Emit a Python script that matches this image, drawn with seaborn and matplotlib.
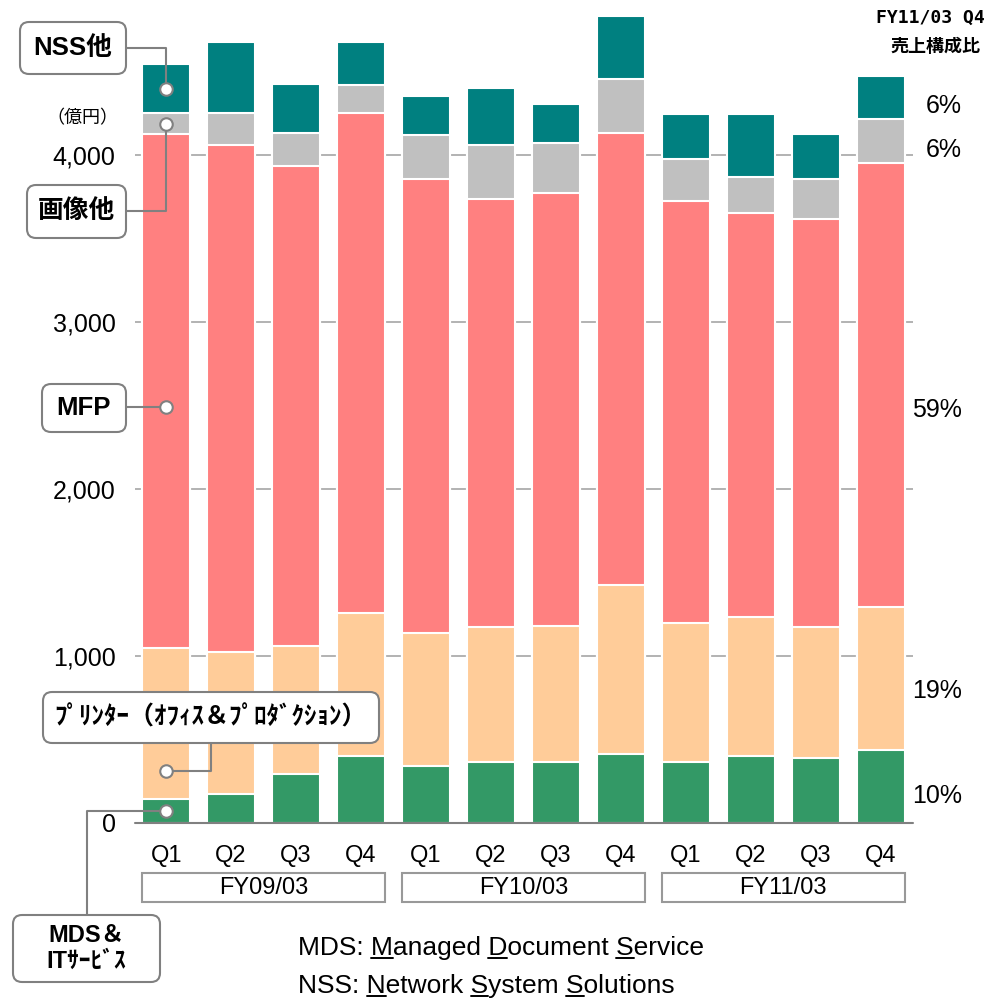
import matplotlib
matplotlib.use("Agg")
import numpy as np
import pandas as pd
import matplotlib.pyplot as plt
import seaborn as sns
from matplotlib import transforms
from matplotlib.patches import FancyBboxPatch, Rectangle
from matplotlib.lines import Line2D

# 四半期別 売上高（億円）
quarters = ["Q1", "Q2", "Q3", "Q4"] * 3
fiscal_years = ["FY09/03", "FY10/03", "FY11/03"]
mds_it = [144, 174, 293, 401, 341, 365, 365, 413, 365, 401, 389, 437]
printer = [904, 850, 767, 856, 797, 809, 815, 1012, 833, 833, 785, 856]
mfp = [3078, 3036, 2874, 2994, 2718, 2563, 2592, 2707, 2527, 2419, 2443, 2659]
imaging_other = [125, 191, 198, 168, 264, 323, 300, 323, 251, 215, 239, 264]
nss_other = [294, 426, 293, 258, 233, 341, 233, 377, 270, 378, 270, 257]

segment_names = ["MDS＆\nITｻｰﾋﾞｽ", "ﾌﾟﾘﾝﾀｰ（ｵﾌｨｽ＆ﾌﾟﾛﾀﾞｸｼｮﾝ）", "MFP", "画像他", "NSS他"]
colors = ["#339966", "#FFCC99", "#FF8080", "#C0C0C0", "#008080"]

periods = [f"{fy} {q}" for fy in fiscal_years for q in ["Q1", "Q2", "Q3", "Q4"]]
df = pd.DataFrame({"period": periods, "MDS": mds_it, "Printer": printer,
                   "MFP": mfp, "Imaging": imaging_other, "NSS": nss_other})
cols = ["MDS", "Printer", "MFP", "Imaging", "NSS"]
cum = df[cols].cumsum(axis=1)

sns.set_style("white")
plt.rcParams["font.family"] = ["Liberation Sans", "Noto Sans CJK JP"]
plt.rcParams["text.color"] = "black"
plt.rcParams["xtick.color"] = "black"
plt.rcParams["ytick.color"] = "black"

W, H = 992, 998
fig = plt.figure(figsize=(W / 100, H / 100), dpi=100)
ax = fig.add_axes([135 / W, 1 - 823 / H, 778 / W, 818 / H])
px = transforms.Affine2D().scale(1 / W, -1 / H).translate(0, 1) + fig.transFigure

# 積み上げ棒（上の層から順に描く）
for i in reversed(range(len(cols))):
    sns.barplot(x=df["period"], y=cum[cols[i]], order=periods, color=colors[i],
                saturation=1, width=0.74, edgecolor="white", linewidth=1.5,
                errorbar=None, ax=ax, zorder=2)

ax.set_xlim(-0.48, 11.5)
ax.set_ylim(0, 4900)
ax.set_xlabel("")
ax.set_ylabel("")
for s in ax.spines.values():
    s.set_visible(False)
ax.set_yticks([0, 1000, 2000, 3000, 4000])
ax.set_yticklabels([f"{v:,}" for v in [0, 1000, 2000, 3000, 4000]])
ax.grid(axis="y", color="#A6A6A6", linewidth=1.2)
ax.set_axisbelow(True)
ax.axhline(0, color="#808080", linewidth=1.5, zorder=3, clip_on=False)
ax.tick_params(axis="y", length=0, pad=14, labelsize=18)
ax.set_xticks(range(12))
ax.set_xticklabels(quarters)
ax.tick_params(axis="x", length=0, pad=16, labelsize=17)

# 年度ボックス
trans = transforms.blended_transform_factory(ax.transData, fig.transFigure)
for g, fy in enumerate(fiscal_years):
    x0 = g * 4 - 0.37
    x1 = g * 4 + 3 + 0.37
    ax.add_patch(Rectangle((x0, 1 - 902 / H), x1 - x0, 29 / H, transform=trans,
                           facecolor="white", edgecolor="#999999", linewidth=1.5,
                           clip_on=False))
    ax.text((x0 + x1) / 2, 1 - 888 / H, fy, transform=trans, ha="center",
            va="center", fontsize=17)

# 構成比（最終四半期）
last = df[cols].iloc[-1]
total = last.sum()
for i, c in enumerate(cols):
    mid = cum[c].iloc[-1] - last[c] / 2
    ax.text(12.25, mid - 40 - 0.04 * last[c], f"{round(100 * last[c] / total)}%",
            ha="right", va="center", fontsize=18, clip_on=False)

fig.text(930, 18, "FY11/03 Q4", transform=px, ha="center", va="center",
         fontsize=13, weight="bold", family=["DejaVu Sans Mono", "Noto Sans CJK JP"])
fig.text(935, 46, "売上構成比", transform=px, ha="center", va="center",
         fontsize=13, weight="bold", family=["Noto Sans CJK JP"])
fig.text(82, 118, "（億円）", transform=px, ha="center", va="center",
         fontsize=13, family=["Noto Sans CJK JP"])

# 凡例ボックスと引き出し線
anchor_frac = [0.5, 0.185, 0.47, 0.5, 0.5]
boxes = [(13, 915, 147, 67), (43, 692, 336, 51), (42, 384, 84, 48),
         (27, 185, 99, 53), (20, 22, 106, 52)]
box_fs = [17, 18, 18.5, 18.5, 18.5]
fig.canvas.draw()
for i, c in enumerate(cols):
    val = cum[c].iloc[0] - df[c].iloc[0] * (1 - anchor_frac[i])
    dx, dy = ax.transData.transform((0, val))
    ax_, ay = dx, H - dy
    bx, by, bw, bh = boxes[i]
    if i == 0:
        path = [(87, by), (87, ay), (ax_, ay)]
    elif i == 1:
        path = [(211, by + bh), (211, ay), (ax_, ay)]
    elif i == 2:
        path = [(bx + bw, ay), (ax_, ay)]
    else:
        yy = by + bh / 2
        path = [(bx + bw, yy), (ax_, yy), (ax_, ay)]
    xs, ys = zip(*path)
    fig.add_artist(Line2D(xs, ys, transform=px, color="#808080", linewidth=1.5, zorder=4))
    fig.add_artist(Line2D([ax_], [ay], transform=px, marker="o", markersize=9,
                          markerfacecolor="white", markeredgecolor="#808080",
                          markeredgewidth=1.5, zorder=5))
    fig.add_artist(FancyBboxPatch((bx, by), bw, bh, transform=px,
                                  boxstyle="round,pad=0,rounding_size=9",
                                  facecolor="white", edgecolor="#808080",
                                  linewidth=1.5, zorder=4))
    fig.text(bx + bw / 2, by + bh / 2, segment_names[i], transform=px, ha="center",
             va="center", fontsize=box_fs[i], weight="bold", linespacing=1.15, zorder=6,
             family=["Liberation Sans", "Noto Sans CJK JP"])

# 注記（頭文字に下線）
renderer = fig.canvas.get_renderer()
notes = [("MDS: Managed Document Service", 955, [5, 13, 22]),
         ("NSS: Network System Solutions", 993, [5, 13, 20])]
for text, base, idxs in notes:
    t = fig.text(298, base, text, transform=px, ha="left", va="baseline", fontsize=19)
    prop = t.get_fontproperties()
    for k in idxs:
        w_end = renderer.get_text_width_height_descent(text[:k + 1], prop, ismath=False)[0]
        w_ch = renderer.get_text_width_height_descent(text[k], prop, ismath=False)[0]
        fig.add_artist(Line2D([298 + w_end - w_ch, 298 + w_end], [base + 3, base + 3],
                              transform=px, color="black", linewidth=1.4))

fig.savefig("out.png", dpi=100)
